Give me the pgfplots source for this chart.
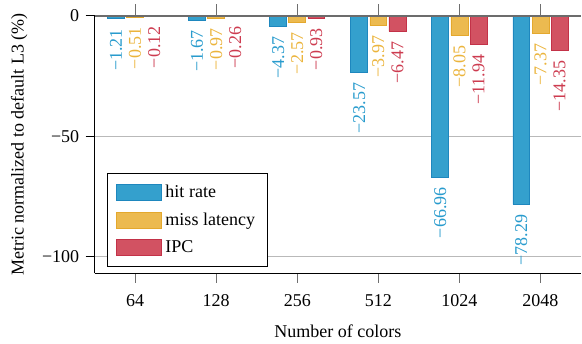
\documentclass[border=0pt]{standalone}
\usepackage{fontspec}
\setmainfont{Liberation Serif}
\usepackage{pgfplots}
\usepackage{pgfplotstable}
\usetikzlibrary{calc}
\pgfplotsset{compat=1.18}
\definecolor{cblue}{RGB}{52,160,205}
\definecolor{cbluedk}{RGB}{30,135,190}
\definecolor{corange}{RGB}{236,186,80}
\definecolor{corangedk}{RGB}{228,168,45}
\definecolor{cred}{RGB}{210,82,98}
\definecolor{creddk}{RGB}{195,50,72}
\definecolor{tblue}{RGB}{40,155,205}
\definecolor{torange}{RGB}{235,180,60}
\definecolor{tred}{RGB}{205,60,80}
\definecolor{tickgray}{RGB}{110,110,110}
\pgfplotstableread{
x y l
0 -1.21 −1.21
1 -1.67 −1.67
2 -4.37 −4.37
3 -23.57 −23.57
4 -66.96 −66.96
5 -78.29 −78.29
}\hitrate
\pgfplotstableread{
x y l
0 -0.51 −0.51
1 -0.97 −0.97
2 -2.57 −2.57
3 -3.97 −3.97
4 -8.05 −8.05
5 -7.37 −7.37
}\misslat
\pgfplotstableread{
x y l
0 -0.12 −0.12
1 -0.26 −0.26
2 -0.93 −0.93
3 -6.47 −6.47
4 -11.94 −11.94
5 -14.35 −14.35
}\ipc
\begin{document}
\begin{tikzpicture}
\begin{axis}[
  name=ax,
  scale only axis, width=270pt, height=143pt,
  ybar=1.2pt, bar width=9.4pt,
  xmin=-0.5, xmax=5.5, ymin=-107, ymax=0,
  axis x line*=bottom, axis y line*=left,
  clip=false,
  xtick={0,1,2,3,4,5}, xticklabels={64,128,256,512,1024,2048},
  tick align=outside, major tick length=5pt,
  x tick style={tickgray, line width=0.5pt},
  y tick style={black, thin},
  xticklabel style={yshift=-3pt},
  ytick={-100,-50,0}, yticklabels={−100,−50,0},
  ymajorgrids, grid style={gray!55, thin},
  xlabel={Number of colors},
  ylabel={Metric normalized to default L3 (\%)},
  xlabel style={at={(axis description cs:0.5,-0.225)}, anchor=center},
  ylabel style={at={(axis description cs:-0.155,0.5)}, anchor=center},
  nodes near coords={\pgfplotspointmeta},
  point meta=explicit symbolic,
  every node near coord/.append style={rotate=90, anchor=east, inner xsep=5.5pt, font=\normalsize},
  legend style={at={(0.025,0.025)}, anchor=south west, draw=black, font=\normalsize, row sep=3pt, inner xsep=5pt, inner ysep=4.5pt},
  legend cell align=left,
  legend image code/.code={\draw[#1] (0pt,-4.5pt) rectangle (25pt,4.5pt);},
]
\addplot[fill=cblue, draw=cbluedk, every node near coord/.append style={text=tblue}] table[x=x, y=y, meta=l] {\hitrate};
\addplot[fill=corange, draw=corangedk, every node near coord/.append style={text=torange}] table[x=x, y=y, meta=l] {\misslat};
\addplot[fill=cred, draw=creddk, every node near coord/.append style={text=tred}] table[x=x, y=y, meta=l] {\ipc};
\legend{hit rate, miss latency\hspace{10pt}, IPC}
\end{axis}
\draw[gray!85!black, line width=1.1pt] (ax.north west) -- (ax.north east);
\foreach \f in {0.083333,0.25,0.416667,0.583333,0.75,0.916667} {
  \draw[tickgray, line width=0.6pt] ($(ax.north west)!\f!(ax.north east)$) -- ++(0pt,6.8pt);
}
\path ($(ax.north west)+(-52.5pt,8.8pt)$);
\end{tikzpicture}
\end{document}
